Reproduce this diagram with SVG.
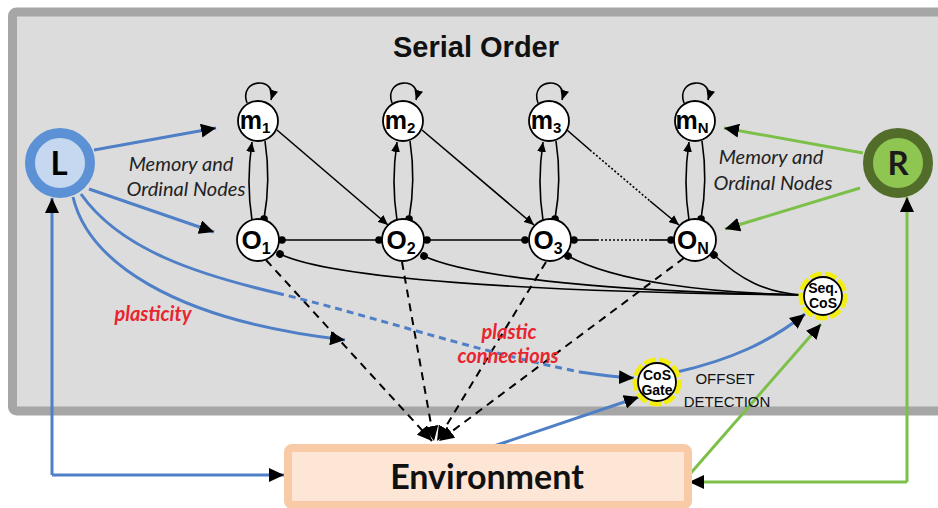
<svg xmlns="http://www.w3.org/2000/svg" width="938" height="508" viewBox="0 0 938 508">
<defs>
<marker id="ab" markerUnits="userSpaceOnUse" markerWidth="16" markerHeight="14" refX="15" refY="7" orient="auto"><path d="M0,0 L15,7 L0,14 z" fill="#000"/></marker>
<marker id="as" markerUnits="userSpaceOnUse" markerWidth="11" markerHeight="9" refX="10" refY="4.5" orient="auto"><path d="M0,0 L10,4.5 L0,9 z" fill="#000"/></marker>
<marker id="dot" markerUnits="userSpaceOnUse" markerWidth="9" markerHeight="9" refX="4.5" refY="4.5" orient="auto"><circle cx="4.5" cy="4.5" r="3.8" fill="#000"/></marker>
</defs>
<style>
.node circle.n{fill:#fff;stroke:#000;stroke-width:1.8}
.lbl{font-family:"Liberation Sans",Arial,sans-serif;font-weight:bold;fill:#000}
.it{font-family:Lato,"Open Sans",sans-serif;font-style:italic;fill:#222}
.red{font-family:Lato,"Open Sans",sans-serif;font-style:italic;font-weight:bold;fill:#e8252f}
.k{fill:none;stroke:#000;stroke-width:1.6}
.kd{fill:none;stroke:#000;stroke-width:2;stroke-dasharray:8 6}
.b{fill:none;stroke:#4f7fc6;stroke-width:3}
.g{fill:none;stroke:#7cc04a;stroke-width:3}
.halo{fill:none;stroke:#f2ee12;stroke-width:5;stroke-dasharray:12 3}
</style>
<rect x="12.5" y="12" width="940" height="399" rx="4" fill="#dcdcdc" stroke="#a6a6a6" stroke-width="9"/>
<text x="476" y="57" text-anchor="middle" font-family="Liberation Sans,Arial,sans-serif" font-weight="bold" font-size="29" fill="#111">Serial Order</text>

<g id="connectors">
<path class="k" d="M247,103 C238,78 278,76 271,100" marker-end="url(#as)"/>
<path class="k" d="M392,103 C383,78 423,76 416,100" marker-end="url(#as)"/>
<path class="k" d="M538,103 C529,78 569,76 562,100" marker-end="url(#as)"/>
<path class="k" d="M684,103 C675,78 715,76 708,100" marker-end="url(#as)"/>
<path class="k" d="M252,220 Q246,182 252,142" marker-end="url(#as)"/>
<path class="k" d="M265,141 Q271,180 264,219" marker-end="url(#dot)"/>
<path class="k" d="M397,220 Q391,182 397,142" marker-end="url(#as)"/>
<path class="k" d="M410,141 Q416,180 409,219" marker-end="url(#dot)"/>
<path class="k" d="M543,220 Q537,182 543,142" marker-end="url(#as)"/>
<path class="k" d="M556,141 Q562,180 555,219" marker-end="url(#dot)"/>
<path class="k" d="M689,220 Q683,182 689,142" marker-end="url(#as)"/>
<path class="k" d="M702,141 Q708,180 701,219" marker-end="url(#dot)"/>
<path class="k" d="M277,130 L388,225" marker-end="url(#as)"/>
<path class="k" d="M422,130 L534,225" marker-end="url(#as)"/>
<path class="k" d="M567,130 L590,150"/>
<path class="k" d="M590,150 L650,201" stroke-dasharray="2 2" stroke-width="1.3"/>
<path class="k" d="M650,201 L679,225" marker-end="url(#as)"/>
<path class="k" d="M282,240 L379,240" marker-start="url(#dot)" marker-end="url(#dot)"/>
<path class="k" d="M427,240 L525,240" marker-start="url(#dot)" marker-end="url(#dot)"/>
<path class="k" d="M574,240 L597,240" marker-start="url(#dot)"/>
<path class="k" d="M597,240 L650,240" stroke-dasharray="2 2" stroke-width="1.3"/>
<path class="k" d="M650,240 L671,240" marker-end="url(#dot)"/>
<path class="k" d="M280,254 C330,278 520,292 803,295" marker-start="url(#dot)"/>
<path class="k" d="M424,256 C470,278 620,292 803,295" marker-start="url(#dot)"/>
<path class="k" d="M568,256 C615,282 710,293 803,295" marker-start="url(#dot)"/>
<path class="k" d="M714,255 C740,279 765,293 803,295" marker-start="url(#dot)"/>
<path class="kd" d="M266,260 L432,441" marker-end="url(#ab)"/>
<path class="kd" d="M402,262 L434,441" marker-end="url(#ab)"/>
<path class="kd" d="M546,262 L437,441" marker-end="url(#ab)"/>
<path class="kd" d="M684,258 L439,441" marker-end="url(#ab)"/>
<path class="b" d="M94,150 L216,128" marker-end="url(#ab)"/>
<path class="b" d="M89,189 L214,232" marker-end="url(#ab)"/>
<path class="b" d="M81,194 C120,250 200,275 277,293"/>
<path class="b" d="M277,293 C380,318 470,350 580,372" stroke-dasharray="7 5"/>
<path class="b" d="M580,372 C600,375 615,377 634,378" marker-end="url(#ab)"/>
<path class="b" d="M73,197 C88,260 170,320 345,340" marker-end="url(#ab)"/>
<path class="b" d="M52,475 L52,198" marker-end="url(#ab)"/>
<path class="b" d="M52,475 L284,475" marker-end="url(#ab)"/>
<path class="b" d="M488,448 L639,397" marker-end="url(#ab)"/>
<path class="b" d="M677,372 C730,360 770,342 805,314" marker-end="url(#ab)"/>
<path class="g" d="M863,153 L724,128" marker-end="url(#ab)"/>
<path class="g" d="M860,188 L725,229" marker-end="url(#ab)"/>
<path class="g" d="M907,482 L907,197" marker-end="url(#ab)"/>
<path class="g" d="M907,482 L689,482" marker-end="url(#ab)"/>
<path class="g" d="M690,474 L821,324" marker-end="url(#ab)"/>
</g>

<g id="env">
<rect x="288" y="448" width="400" height="57" rx="4" fill="#fde6d6" stroke="#f8cba6" stroke-width="8"/>
<text x="487" y="489" text-anchor="middle" font-family="Lato,'Open Sans',sans-serif" font-weight="bold" font-size="34" fill="#111">Environment</text>
</g>

<g id="L">
<circle cx="60" cy="163" r="30" fill="#c5d8f0" stroke="#5d91d6" stroke-width="10"/>
<text x="59" y="175" text-anchor="middle" font-family="Lato,'Open Sans',sans-serif" font-weight="bold" font-size="33" fill="#000">L</text>
</g>
<g id="R">
<circle cx="898" cy="163" r="30" fill="#8fc551" stroke="#526d2a" stroke-width="10"/>
<text x="898" y="175" text-anchor="middle" font-family="Lato,'Open Sans',sans-serif" font-weight="bold" font-size="33" fill="#1a1a1a">R</text>
</g>

<g id="m1" class="node"><circle class="n" cx="258" cy="121" r="20"/><text class="lbl" x="255" y="129" text-anchor="middle" font-size="25">m<tspan font-size="15" dy="4">1</tspan></text></g>
<g id="m2" class="node"><circle class="n" cx="403" cy="121" r="20"/><text class="lbl" x="400" y="129" text-anchor="middle" font-size="25">m<tspan font-size="15" dy="4">2</tspan></text></g>
<g id="m3" class="node"><circle class="n" cx="549" cy="121" r="20"/><text class="lbl" x="546" y="129" text-anchor="middle" font-size="25">m<tspan font-size="15" dy="4">3</tspan></text></g>
<g id="mN" class="node"><circle class="n" cx="695" cy="121" r="20"/><text class="lbl" x="692" y="129" text-anchor="middle" font-size="25">m<tspan font-size="15" dy="4">N</tspan></text></g>

<g id="O1" class="node"><circle class="n" cx="258" cy="240" r="21"/><text class="lbl" x="256" y="249" text-anchor="middle" font-size="26">O<tspan font-size="16" dy="5">1</tspan></text></g>
<g id="O2" class="node"><circle class="n" cx="403" cy="240" r="21"/><text class="lbl" x="401" y="249" text-anchor="middle" font-size="26">O<tspan font-size="16" dy="5">2</tspan></text></g>
<g id="O3" class="node"><circle class="n" cx="550" cy="240" r="21"/><text class="lbl" x="548" y="249" text-anchor="middle" font-size="26">O<tspan font-size="16" dy="5">3</tspan></text></g>
<g id="ON" class="node"><circle class="n" cx="695" cy="240" r="21"/><text class="lbl" x="693" y="249" text-anchor="middle" font-size="26">O<tspan font-size="16" dy="5">N</tspan></text></g>

<g id="seqcos" class="node">
<circle class="halo" cx="823" cy="296" r="22"/>
<circle class="n" cx="823" cy="296" r="19"/>
<text class="lbl" x="823" y="293" text-anchor="middle" font-size="14">Seq.</text>
<text class="lbl" x="823" y="308" text-anchor="middle" font-size="14">CoS</text>
</g>
<g id="cosgate" class="node">
<circle class="halo" cx="657" cy="382" r="22"/>
<circle class="n" cx="657" cy="382" r="19"/>
<text class="lbl" x="657" y="380" text-anchor="middle" font-size="14">CoS</text>
<text class="lbl" x="657" y="395" text-anchor="middle" font-size="14">Gate</text>
</g>

<g id="labels">
<text class="it" x="181" y="171" text-anchor="middle" font-size="20">Memory and</text>
<text class="it" x="186" y="196" text-anchor="middle" font-size="20">Ordinal Nodes</text>
<text class="it" x="771" y="164" text-anchor="middle" font-size="20">Memory and</text>
<text class="it" x="773" y="190" text-anchor="middle" font-size="20">Ordinal Nodes</text>
<text class="red" x="153" y="321" text-anchor="middle" font-size="20">plasticity</text>
<text class="red" x="509" y="339" text-anchor="middle" font-size="20">plastic</text>
<text class="red" x="508" y="363" text-anchor="middle" font-size="20">connections</text>
<text x="725" y="384" text-anchor="middle" font-family="'Liberation Sans',Arial,sans-serif" font-size="15" fill="#111">OFFSET</text>
<text x="727" y="407" text-anchor="middle" font-family="'Liberation Sans',Arial,sans-serif" font-size="15" fill="#111">DETECTION</text>
</g>
</svg>
